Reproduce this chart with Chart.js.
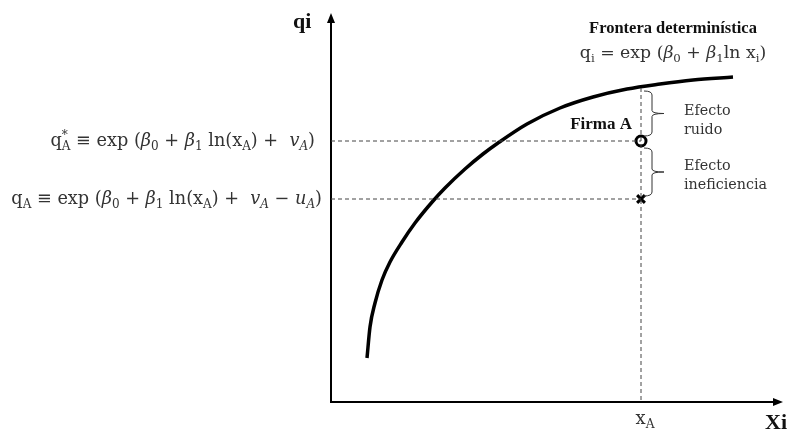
<!DOCTYPE html>
<html>
<head>
<meta charset="utf-8">
<script src="https://cdn.jsdelivr.net/npm/chart.js@4"></script>
<style>
  html, body { margin: 0; padding: 0; background: #fff; }
  #wrap { width: 791px; height: 434px; position: relative; }
</style>
</head>
<body>
<div id="wrap"><canvas id="chart"></canvas></div>
<script>
// frontier (deterministic production curve)
const frontierX = [36, 39, 44, 51, 59, 71, 84, 102, 114, 134, 152, 167, 196, 229, 262, 296, 329, 362, 402];
const frontierY = [44, 75, 99, 122, 140, 160, 179, 201, 214, 233, 248, 259, 278, 294, 305, 313, 318, 322, 325];

// firm A
const firmX = 310;
const qStar = 261;          // q*_A, with noise
const qObserved = 203;      // q_A, with noise and inefficiency
const qFrontierAtFirm = 314;

// axis extent (arrow tips)
const axisMaxX = 452;
const axisMaxY = 389;

const SERIF = '"DejaVu Serif", "Liberation Serif", serif';
const TIMES = '"Liberation Serif", serif';

const measure = (ctx, text, size, it, b, fam) => {
    ctx.font = `${it ? 'italic ' : ''}${b ? 'bold ' : ''}${size}px ${fam}`;
    return ctx.measureText(text).width;
};

const partWidth = (ctx, p, size, fam) => {
    const main = measure(ctx, p.t || '', size, p.it, p.b, fam);
    const sub = p.sub ? measure(ctx, p.sub, size * 0.68, p.subIt, p.b, fam) : 0;
    const sup = p.sup ? measure(ctx, p.sup, size * 0.68, false, p.b, fam) : 0;
    return main + Math.max(sub, sup);
};

function drawRich(ctx, parts, x, y, size, align, color, fam = SERIF) {
    const total = parts.reduce((s, p) => s + partWidth(ctx, p, size, fam), 0);
    let cx = align === 'right' ? x - total : align === 'center' ? x - total / 2 : x;
    ctx.save();
    ctx.fillStyle = color;
    ctx.textBaseline = 'alphabetic';
    ctx.textAlign = 'left';
    parts.forEach((p) => {
        const w = measure(ctx, p.t || '', size, p.it, p.b, fam);
        ctx.fillText(p.t || '', cx, y);
        cx += w;
        let extra = 0;
        if (p.sub) {
            const sw = measure(ctx, p.sub, size * 0.68, p.subIt, p.b, fam);
            ctx.fillText(p.sub, cx, y + size * 0.22);
            extra = Math.max(extra, sw);
        }
        if (p.sup) {
            const sw = measure(ctx, p.sup, size * 0.68, false, p.b, fam);
            ctx.fillText(p.sup, cx, y - size * 0.38);
            extra = Math.max(extra, sw);
        }
        cx += extra;
    });
    ctx.restore();
}

function brace(ctx, x, y1, y2, w, tip) {
    const m = (y1 + y2) / 2;
    ctx.beginPath();
    ctx.moveTo(x, y1);
    ctx.quadraticCurveTo(x + w, y1, x + w, y1 + 4);
    ctx.lineTo(x + w, m - 3);
    ctx.quadraticCurveTo(x + w, m, x + w + tip, m);
    ctx.moveTo(x + w + tip, m);
    ctx.quadraticCurveTo(x + w, m, x + w, m + 3);
    ctx.lineTo(x + w, y2 - 4);
    ctx.quadraticCurveTo(x + w, y2, x, y2);
    ctx.stroke();
}

const formulaStar = [
    { t: 'q', sup: '*', sub: 'A' },
    { t: ' \u2261 exp (' },
    { t: '\u03B2', it: true, sub: '0' },
    { t: ' + ' },
    { t: '\u03B2', it: true, sub: '1' },
    { t: ' ln(x', sub: 'A' },
    { t: ') +  ' },
    { t: 'v', it: true, sub: 'A', subIt: true },
    { t: ')' }
];
const formulaObs = [
    { t: 'q', sub: 'A' },
    { t: ' \u2261 exp (' },
    { t: '\u03B2', it: true, sub: '0' },
    { t: ' + ' },
    { t: '\u03B2', it: true, sub: '1' },
    { t: ' ln(x', sub: 'A' },
    { t: ') +  ' },
    { t: 'v', it: true, sub: 'A', subIt: true },
    { t: ' \u2212 ' },
    { t: 'u', it: true, sub: 'A', subIt: true },
    { t: ')' }
];
const formulaFrontier = [
    { t: 'q', sub: 'i' },
    { t: ' = exp (' },
    { t: '\u03B2', it: true, sub: '0' },
    { t: ' + ' },
    { t: '\u03B2', it: true, sub: '1' },
    { t: 'ln x', sub: 'i' },
    { t: ')' }
];

const annotations = {
    id: 'annotations',
    beforeDatasetsDraw(chart) {
        const { ctx, scales: { x, y } } = chart;
        const x0 = x.getPixelForValue(0);
        const y0 = y.getPixelForValue(0);
        const xe = x.getPixelForValue(axisMaxX);
        const ye = y.getPixelForValue(axisMaxY);
        ctx.save();
        ctx.strokeStyle = '#000';
        ctx.fillStyle = '#000';
        ctx.lineWidth = 2;
        ctx.beginPath();
        ctx.moveTo(x0, y0);
        ctx.lineTo(x0, ye + 6);
        ctx.moveTo(x0 - 1, y0);
        ctx.lineTo(xe - 6, y0);
        ctx.stroke();
        ctx.beginPath();
        ctx.moveTo(x0, ye);
        ctx.lineTo(x0 - 4, ye + 10);
        ctx.lineTo(x0 + 4, ye + 10);
        ctx.closePath();
        ctx.fill();
        ctx.beginPath();
        ctx.moveTo(xe, y0);
        ctx.lineTo(xe - 10, y0 - 4);
        ctx.lineTo(xe - 10, y0 + 4);
        ctx.closePath();
        ctx.fill();
        ctx.restore();
    },
    afterDatasetsDraw(chart) {
        const { ctx, scales: { x, y } } = chart;
        const fx = x.getPixelForValue(firmX);
        const yTop = y.getPixelForValue(qFrontierAtFirm);
        const yStar = y.getPixelForValue(qStar);
        const yObs = y.getPixelForValue(qObserved);
        const x0 = x.getPixelForValue(0);

        ctx.save();
        ctx.strokeStyle = '#333';
        ctx.lineWidth = 1;
        brace(ctx, fx + 3, yTop + 3, yStar - 5, 8, 12);
        brace(ctx, fx + 3, yStar + 7, yObs - 3, 8, 12);
        ctx.restore();

        // axis titles
        drawRich(ctx, [{ t: 'qi', b: true }], x0 - 38, 28, 22, 'left', '#111', TIMES);
        drawRich(ctx, [{ t: 'Xi', b: true }], x.getPixelForValue(axisMaxX) - 18, 429, 22, 'left', '#111', TIMES);
        drawRich(ctx, [{ t: 'x', sub: 'A' }], fx + 4, 424, 18, 'center', '#333');

        // left formulas
        drawRich(ctx, formulaStar, x0 - 16, yStar + 5, 17.7, 'right', '#333');
        drawRich(ctx, formulaObs, x0 - 9, yObs + 5, 17.7, 'right', '#333');

        // frontier label
        drawRich(ctx, [{ t: 'Frontera determin\u00EDstica', b: true }], 673, 33, 16.5, 'center', '#111', TIMES);
        drawRich(ctx, formulaFrontier, 673, 58, 17.3, 'center', '#333');

        // firm and effect labels
        drawRich(ctx, [{ t: 'Firma A', b: true }], fx - 9, yStar - 12, 17, 'right', '#111', TIMES);
        const lx = fx + 43;
        drawRich(ctx, [{ t: 'Efecto' }], lx, 115, 14.3, 'left', '#333');
        drawRich(ctx, [{ t: 'ruido' }], lx, 134, 14.3, 'left', '#333');
        drawRich(ctx, [{ t: 'Efecto' }], lx, 170, 14.3, 'left', '#333');
        drawRich(ctx, [{ t: 'ineficiencia' }], lx, 189, 14.3, 'left', '#333');
    }
};

const dashed = { borderColor: '#444', borderWidth: 1, borderDash: [4, 3], pointRadius: 0, showLine: true, fill: false };

new Chart(document.getElementById('chart'), {
    type: 'scatter',
    data: {
        datasets: [
            { ...dashed, data: [{ x: 0, y: qStar }, { x: firmX, y: qStar }] },
            { ...dashed, data: [{ x: 0, y: qObserved }, { x: firmX, y: qObserved }] },
            { ...dashed, data: [{ x: firmX, y: qFrontierAtFirm }, { x: firmX, y: 0 }] },
            {
                data: frontierX.map((v, i) => ({ x: v, y: frontierY[i] })),
                showLine: true,
                borderColor: '#000',
                borderWidth: 3.5,
                pointRadius: 0,
                cubicInterpolationMode: 'monotone',
                borderCapStyle: 'butt'
            },
            {
                data: [{ x: firmX, y: qStar }],
                pointStyle: 'circle',
                pointRadius: 5,
                borderWidth: 3,
                borderColor: '#000',
                backgroundColor: '#fff'
            },
            {
                data: [{ x: firmX, y: qObserved }],
                pointStyle: 'crossRot',
                pointRadius: 5.5,
                borderWidth: 3,
                borderColor: '#000'
            }
        ]
    },
    options: {
        responsive: true,
        maintainAspectRatio: false,
        animation: false,
        events: [],
        layout: { autoPadding: false, padding: { left: 331, right: 0, top: 0, bottom: 32 } },
        plugins: { legend: { display: false }, tooltip: { enabled: false } },
        scales: {
            x: { type: 'linear', min: 0, max: 460, display: false },
            y: { type: 'linear', min: 0, max: 402, display: false }
        }
    },
    plugins: [annotations]
});
</script>
</body>
</html>
